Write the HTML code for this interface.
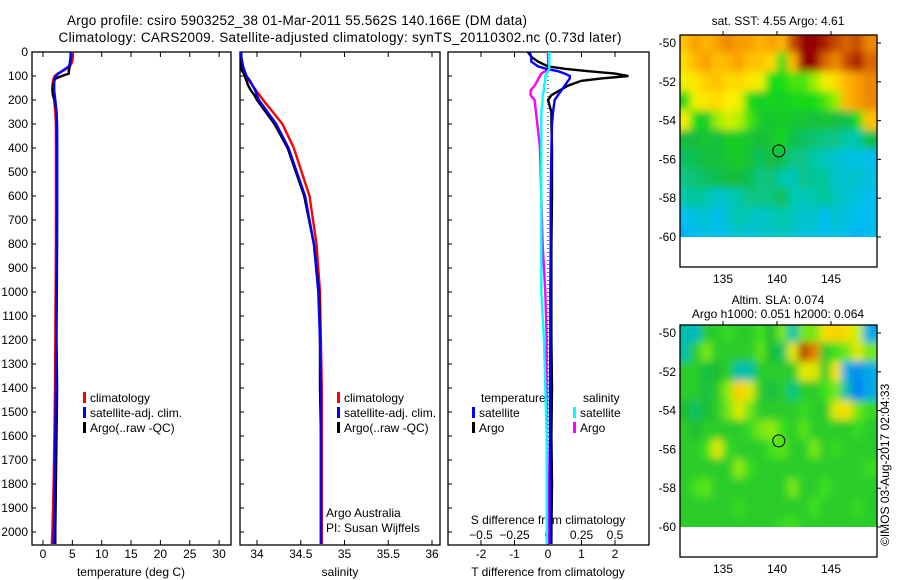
<!DOCTYPE html>
<html><head><meta charset="utf-8"><style>
html,body{margin:0;padding:0;background:#fff;}
svg{display:block;font-family:"Liberation Sans",sans-serif;}
text{font-size:12px;fill:#000;}
</style></head><body>
<svg id="fig" width="900" height="580" viewBox="0 0 900 580">
<defs>
<clipPath id="c1"><rect x="32" y="52" width="199" height="493"/></clipPath>
<clipPath id="c2"><rect x="240" y="52" width="200" height="493"/></clipPath>
<clipPath id="c3"><rect x="448" y="52" width="201" height="493"/></clipPath>
<clipPath id="cm1"><rect x="680" y="35" width="197" height="232"/></clipPath>
<clipPath id="cm2"><rect x="680" y="325" width="197" height="232"/></clipPath>
<filter id="blur" x="-0.1" y="-0.1" width="1.2" height="1.2"><feGaussianBlur stdDeviation="4"/></filter>
</defs>
<text x="297" y="25" text-anchor="middle" style="font-size:13.5px" textLength="460">Argo profile: csiro 5903252_38 01-Mar-2011 55.562S 140.166E (DM data)</text>
<text x="340" y="42" text-anchor="middle" style="font-size:13.5px" textLength="563">Climatology: CARS2009. Satellite-adjusted climatology: synTS_20110302.nc (0.73d later)</text>
<g id="root"></g>
</svg>
<script>
const depths=[0,20,40,60,70,80,90,100,110,120,140,160,180,200,250,300,400,600,800,1000,1200,1400,1600,1800,2000,2050];
const tClim=[5.1,5.1,5.0,4.6,4.0,3.3,2.5,2.0,1.8,1.7,1.6,1.6,1.7,1.9,2.1,2.2,2.2,2.2,2.2,2.15,2.1,2.05,1.95,1.8,1.6,1.5];
const tSat=[4.8,4.8,4.7,4.4,3.8,3.2,2.6,2.2,2.0,1.9,1.9,1.9,2.0,2.1,2.3,2.4,2.4,2.4,2.35,2.3,2.25,2.2,2.1,2.0,1.85,1.8];
const tArgo=[4.7,4.7,4.6,4.5,4.5,4.4,4.4,3.2,2.2,1.9,1.7,1.6,1.7,2.0,2.3,2.35,2.4,2.4,2.4,2.35,2.3,2.4,2.3,2.2,2.1,2.1];
const sClim=[33.82,33.82,33.83,33.84,33.84,33.85,33.86,33.87,33.89,33.91,33.95,33.99,34.03,34.07,34.18,34.29,34.42,34.6,34.68,34.72,34.73,34.74,34.74,34.74,34.74,34.74];
const sSat=[33.82,33.82,33.83,33.84,33.85,33.86,33.87,33.88,33.9,33.92,33.95,33.98,34.0,34.02,34.12,34.22,34.36,34.55,34.65,34.7,34.72,34.73,34.73,34.73,34.73,34.73];
const sArgo=[33.8,33.8,33.81,33.82,33.82,33.83,33.85,33.86,33.87,33.88,33.9,33.93,33.97,34.0,34.1,34.2,34.35,34.54,34.65,34.71,34.72,34.72,34.73,34.73,34.73,34.73];
const dtArgo=[-0.6,-0.5,-0.3,0,0.5,1.2,2.0,2.4,1.6,1.0,0.6,0.35,0.1,0,0.1,0.1,0.12,0.12,0.1,0.1,0.1,0.12,0.1,0.12,0.1,0.1];
const dtSat=[-0.55,-0.5,-0.5,-0.3,-0.05,0.3,0.5,0.65,0.65,0.6,0.5,0.4,0.3,0.2,0.15,0.12,0.1,0.08,0.08,0.07,0.07,0.06,0.06,0.06,0.06,0.06];
const dsArgo=[0,0,0,0,0,-0.02,-0.05,-0.06,-0.07,-0.08,-0.1,-0.13,-0.13,-0.1,-0.09,-0.08,-0.06,-0.05,-0.04,-0.02,-0.01,-0.01,-0.01,0,0,0];
const dsSat=[0.01,0.01,0.01,0.01,0.01,0,-0.01,-0.02,-0.02,-0.02,-0.03,-0.03,-0.04,-0.04,-0.05,-0.05,-0.05,-0.05,-0.05,-0.05,-0.03,-0.02,-0.01,-0.01,-0.01,-0.01];
const depthTicks=[0,100,200,300,400,500,600,700,800,900,1000,1100,1200,1300,1400,1500,1600,1700,1800,1900,2000];
const tempTicks=[0,5,10,15,20,25,30];
const salTicks=[34,34.5,35,35.5,36];
const dtTicks=[-2,-1,0,1,2];
const dsTicks=[-0.5,-0.25,0,0.25,0.5];
const latTicks=[-50,-52,-54,-56,-58,-60];
const lonTicks=[135,140,145];
const lonStart=131;
const sstGrid=[
[6.5,6.8,6.6,6.8,7,6.8,6.8,6.6,6.8,6.6,7.5,8,8,7.8,7.5,7.3,7.5,7],
[6.3,6.6,6.8,6.5,6.6,6.8,6.5,6.5,6.3,5,6.6,8,8,7.3,7,7.5,7.8,7.3],
[6,6.2,6.4,6.5,6.3,6.3,6.2,6,5,5,5.2,5.2,5.5,6,6.3,6.6,6.8,7],
[5,6,6.2,6.3,6.1,6,5,4.8,4.9,4.8,4.9,5,5,5.2,5.5,6.6,6.8,7],
[6,5,4.8,5.5,5.8,5.6,5.2,4.8,4.7,4.8,4.7,4.7,4.6,4.7,4.6,4.5,5,6.5],
[4.6,4.6,4.7,4.6,4.8,4.8,4.7,4.6,4.7,4.9,4.5,4.4,4.3,4.2,4.2,4,4,4.5],
[4.4,4.5,4.6,4.6,4.7,4.8,4.6,4.4,4.6,4.5,4.2,4.2,4,3.9,3.8,3.7,3.7,3.6],
[4.2,4.3,4.4,4.5,4.6,4.6,4.5,4.2,4.3,4,3.9,4.2,4.1,4.1,3.8,3.8,3.8,3.7],
[4,4.1,4,3.8,3.9,4,4.2,4.2,4.2,4.5,4,3.9,4,4.1,3.9,3.8,3.7,3.6],
[3.6,3.7,3.8,3.6,3.8,4,3.9,3.8,3.9,4,3.9,3.8,3.8,3.6,3.8,3.7,3.6,3.6],
[3.5,3.6,3.7,3.6,3.7,3.8,3.7,3.9,3.8,3.9,3.8,3.7,3.7,3.6,3.7,3.6,3.5,3.6]];
const slaGrid=[
[-0.1,-0.12,0,0,0.02,0,0,0.03,-0.02,0.05,-0.1,0.05,0.05,0.12,0.14,0.12,0.08,-0.15],
[-0.1,0,0.05,0,0,0,0,0.04,-0.02,-0.05,0.1,0.28,0.2,0,0.03,0.05,0.1,0.05],
[0,0,-0.03,-0.02,0,-0.1,-0.1,0,0,0,0,0.1,0.1,0,0.12,-0.15,-0.18,-0.15],
[0,0,-0.03,0,0.06,0.14,0.1,0,-0.03,0,-0.07,0,0,0.03,0.05,-0.1,-0.2,-0.15],
[-0.02,-0.05,-0.02,0,0.05,0.1,0.05,0,0,0,0,0.02,0,0,0.1,0.12,0.05,0.02],
[0,-0.02,0,0,0,0,0.02,0.05,0.06,0.03,0,0.04,0,0,0,0,0.02,0],
[0,0,0.03,0.1,0.02,0,0,0,0.03,0.04,0,0,0.05,0,0.02,0,0,0],
[0,0,0,0,0,0.06,0.02,0,0,0,0,0,0,0,0,0,0,0.02],
[0,0.03,0.04,0,0,0,0,0,0,0,0.05,0,0,0.03,0,0,0,0],
[0,0,0,0,0,0.02,0,0,0,0,0,0,0.03,0,0,0,0.02,0],
[0,0,0,0,0,0,0,0,0,0.02,0.03,0,0,0,0,0,0,0]];
const floatLon=140.166, floatLat=-55.562;

const NS='http://www.w3.org/2000/svg';
const root=document.getElementById('root');
function mk(tag,attrs,parent,txt){const e=document.createElementNS(NS,tag);for(const k in attrs)e.setAttribute(k,attrs[k]);if(txt!==undefined)e.textContent=txt;(parent||root).appendChild(e);return e;}
const yD=d=>52+0.24*d;
const xT=t=>43+t*5.87;
const xS=s=>257+(s-34)*87.5;
const xDT=t=>548+t*33.5;
const xDS=s=>548+s*134;

function frame(x0,x1,name){
  const g=mk('g',{});
  
  
  mk('rect',{x:x0,y:52,width:x1-x0,height:493,fill:'none',stroke:'#000','stroke-width':1.3},g);
  depthTicks.forEach(d=>{mk('line',{x1:x0,x2:x0+4,y1:yD(d),y2:yD(d),stroke:'#000'},g);});
  return g;
}
function xticks(g,vals,fx,labY,fmt,top){
  vals.forEach(v=>{const x=fx(v);
    mk('line',{x1:x,x2:x,y1:545,y2:540,stroke:'#000'},g);
    if(top!==false) mk('line',{x1:x,x2:x,y1:52,y2:57,stroke:'#000'},g);
    const t=mk('text',{x:x,y:labY,'text-anchor':'middle'},g,fmt?fmt(v):String(v));
    
    
  });
}
function line(arr,fx,color,clip,name,w){
  const p=mk('polyline',{points:depths.map((d,i)=>fx(arr[i]).toFixed(1)+','+yD(d).toFixed(1)).join(' '),fill:'none',stroke:color,'stroke-width':w||2.4,'clip-path':'url(#'+clip+')'});
  
  
}
function legend(x,y,items,g){
  items.forEach((it,i)=>{
    mk('rect',{x:x,y:y+i*15-6,width:3,height:11,fill:it[0]},g);
    const t=mk('text',{x:x+7,y:y+i*15+4},g,it[1]);
    
    
  });
}
// Panel 1
const g1=frame(32,231,'temperature-panel');
depthTicks.forEach(d=>{const t=mk('text',{x:28,y:yD(d)+4,'text-anchor':'end'},g1,String(d));
  
  });
xticks(g1,tempTicks,xT,558);
const xl1=mk('text',{x:131,y:576,'text-anchor':'middle'},g1,'temperature (deg C)');


line(tClim,xT,'#f00','c1','temp-climatology-line');
line(tArgo,xT,'#000','c1','temp-argo-line');
line(tSat,xT,'#00f','c1','temp-satellite-line');
legend(83,398,[['#f00','climatology'],['#00f','satellite-adj. clim.'],['#000','Argo(..raw -QC)']],g1);
// Panel 2
const g2=frame(240,440,'salinity-panel');
xticks(g2,salTicks,xS,558);
const xl2=mk('text',{x:340,y:576,'text-anchor':'middle'},g2,'salinity');


line(sClim,xS,'#f00','c2','sal-climatology-line');
line(sArgo,xS,'#000','c2','sal-argo-line');
line(sSat,xS,'#00f','c2','sal-satellite-line');
legend(337,398,[['#f00','climatology'],['#00f','satellite-adj. clim.'],['#000','Argo(..raw -QC)']],g2);
mk('text',{x:326,y:517},g2,'Argo Australia');
mk('text',{x:326,y:532},g2,'PI: Susan Wijffels');
// Panel 3
const g3=frame(448,649,'difference-panel');
xticks(g3,dtTicks,xDT,558);
dsTicks.forEach(v=>{const t=mk('text',{x:xDS(v),y:539,'text-anchor':'middle'},g3,String(v).replace('-','\u2212'));
  
  });
mk('text',{x:548,y:524,'text-anchor':'middle'},g3,'S difference from climatology');
mk('text',{x:548,y:576,'text-anchor':'middle'},g3,'T difference from climatology');
mk('line',{x1:xDT(0),x2:xDT(0),y1:52,y2:545,stroke:'#000','stroke-dasharray':'1,3','stroke-width':1},g3);
line(dsArgo,xDS,'#f0f','c3','sal-diff-argo-line');
line(dtArgo,xDT,'#000','c3','temp-diff-argo-line');
line(dtSat,xDT,'#00f','c3','temp-diff-satellite-line');
line(dsSat,xDS,'#0ff','c3','sal-diff-satellite-line');
mk('text',{x:481,y:402},g3,'temperature');
mk('text',{x:583,y:402},g3,'salinity');
legend(472,413,[['#00f','satellite'],['#000','Argo']],g3);
legend(573,413,[['#0ff','satellite'],['#f0f','Argo']],g3);

// Maps
function interp(stops,v){
  if(v<=stops[0][0])return stops[0][1];
  for(let i=1;i<stops.length;i++){if(v<=stops[i][0]){const a=stops[i-1],b=stops[i];const f=(v-a[0])/(b[0]-a[0]);
    return 'rgb('+a[1].map((c,k)=>Math.round(c+(b[1][k]-c)*f)).join(',')+')';}}
  return 'rgb('+stops[stops.length-1][1].join(',')+')';
}
const sstStops=[[3.0,[0,120,255]],[3.6,[0,190,240]],[4.0,[0,200,170]],[4.6,[20,190,60]],[5.0,[20,220,20]],[5.6,[180,240,0]],[6.1,[255,240,0]],[6.7,[255,170,0]],[7.4,[210,90,0]],[8.0,[150,0,0]]];
const slaStops=[[-0.25,[0,80,255]],[-0.15,[0,170,230]],[-0.08,[0,200,150]],[-0.02,[30,190,50]],[0.03,[60,225,30]],[0.08,[200,240,0]],[0.13,[255,220,0]],[0.2,[230,130,0]],[0.3,[170,60,0]]];
function drawMap(top,grid,stops,clip,name,title){
  const g=mk('g',{});
  
  
  const lat0y=top+8; // y of -50
  const yL=l=>lat0y+(-50-l)*19.4;
  const xL=l=>723+(l-135)*10.8;
  const cg=mk('g',{'clip-path':'url(#'+clip+')'},g);
  const ig=mk('g',{filter:'url(#blur)'},cg);
  grid.forEach((row,r)=>row.forEach((v,c)=>{
    const y0=(r===0)?top-12:yL(-49.5-r), y1=(r===grid.length-1)?yL(-60)+12:yL(-50.5-r);
    const x0=(c===0)?670:xL(lonStart+c);
    const x1=(c===row.length-1)?890:xL(lonStart+c+1);
    const cell=mk('rect',{x:x0-0.5,y:y0-0.5,width:x1-x0+1,height:(y1-y0)+1,fill:interp(stops,v)},ig);
    
    
  }));
  // blank region south of -60
  mk('rect',{x:680,y:yL(-60),width:197,height:40,fill:'#fff'},cg);
  mk('circle',{cx:xL(floatLon),cy:yL(floatLat),r:6,fill:'none',stroke:'#000','stroke-width':1},g);
  mk('rect',{x:680,y:top,width:197,height:232,fill:'none',stroke:'#000','stroke-width':1.3},g);
  latTicks.forEach(l=>{mk('line',{x1:877,x2:881,y1:yL(l),y2:yL(l),stroke:'#000'},g);
    mk('text',{x:676,y:yL(l)+4,'text-anchor':'end'},g,String(l));});
  lonTicks.forEach(l=>{mk('line',{x1:xL(l),x2:xL(l),y1:top,y2:top-4,stroke:'#000'},g);
    mk('text',{x:xL(l),y:top+248,'text-anchor':'middle'},g,String(l));});
  return g;
}
const m1=drawMap(35,sstGrid,sstStops,'cm1','sst-map');
mk('text',{x:778,y:25,'text-anchor':'middle'},m1,'sat. SST: 4.55 Argo: 4.61');
const m2=drawMap(325,slaGrid,slaStops,'cm2','sla-map');
mk('text',{x:778,y:304,'text-anchor':'middle'},m2,'Altim. SLA: 0.074');
mk('text',{x:778,y:318,'text-anchor':'middle'},m2,'Argo h1000: 0.051 h2000: 0.064');
const cr=mk('text',{x:0,y:0,transform:'translate(889,546) rotate(-90)'},root,'\u00a9IMOS 03-Aug-2017 02:04:33');


</script>
</body></html>
